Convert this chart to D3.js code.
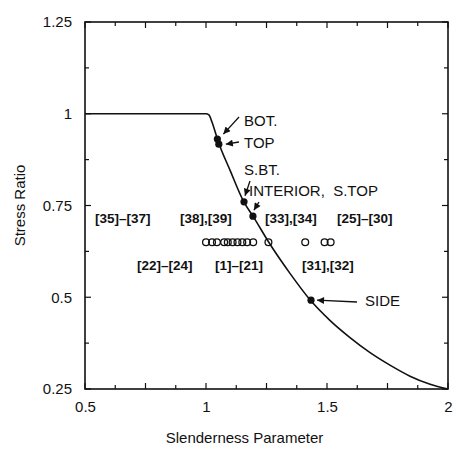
<!DOCTYPE html>
<html>
<head>
<meta charset="utf-8">
<script src="https://cdn.jsdelivr.net/npm/d3@7"></script>
<style>
  body { margin: 0; background: #fff; }
  text { font-family: "Liberation Sans", Arial, sans-serif; fill: #111; }
</style>
</head>
<body>
<div id="chart"></div>
<script>
// design curve (slenderness parameter, stress ratio)
var curveLambda = [0.5, 1.0, 1.012, 1.025, 1.05, 1.10, 1.157, 1.194, 1.264, 1.347, 1.43, 1.512, 1.595, 1.678, 1.76, 1.843, 1.926, 2.0];
var curveStress = [1.0, 1.0, 0.997, 0.977, 0.925, 0.845, 0.759, 0.721, 0.645, 0.565, 0.493, 0.437, 0.39, 0.349, 0.315, 0.285, 0.263, 0.25];

// open circles, tests [1]-[39]
var testLambda = [1.00, 1.025, 1.045, 1.075, 1.09, 1.11, 1.13, 1.15, 1.17, 1.195, 1.258, 1.41, 1.49, 1.515];
var testStress = [0.65, 0.65, 0.65, 0.65, 0.65, 0.65, 0.65, 0.65, 0.65, 0.65, 0.65, 0.65, 0.65, 0.65];

// filled points on the curve
var panelNames  = ["BOT.", "TOP", "S.BT.", "INTERIOR,  S.TOP", "SIDE"];
var panelLambda = [1.047, 1.053, 1.157, 1.194, 1.434];
var panelStress = [0.931, 0.917, 0.760, 0.721, 0.492];

// test number labels
var groupLabels = ["[35]\u2013[37]", "[38],[39]", "[33],[34]", "[25]\u2013[30]", "[22]\u2013[24]", "[1]\u2013[21]", "[31],[32]"];

var xTickValues = [0.5, 1, 1.5, 2];
var xTickLabels = ["0.5", "1", "1.5", "2"];
var yTickValues = [0.25, 0.5, 0.75, 1, 1.25];
var yTickLabels = ["0.25", "0.5", "0.75", "1", "1.25"];

var margin = { top: 22, right: 5, bottom: 66, left: 85 },
    width = 453 - margin.left - margin.right,
    height = 455 - margin.top - margin.bottom;

var svg = d3.select("#chart")
    .append("svg")
    .attr("width", 453)
    .attr("height", 455)
    .append("g")
    .attr("transform", "translate(" + margin.left + "," + margin.top + ")");

var x = d3.scaleLinear().domain([0.5, 2]).range([0, width]);
var y = d3.scaleLinear().domain([0.25, 1.25]).range([height, 0]);

// minor ticks every 0.125, pointing inwards
var xMinor = d3.range(0.5, 2.0001, 0.125);
var yMinor = d3.range(0.25, 1.2501, 0.125);
function tickLen(v) { return (Math.abs(v * 4 - Math.round(v * 4)) < 1e-6) ? 6 : 4; }

var ticks = svg.append("g").attr("stroke", "#111").attr("stroke-width", 1.2);
xMinor.forEach(function (v) {
    ticks.append("line").attr("x1", x(v)).attr("x2", x(v)).attr("y1", height).attr("y2", height - tickLen(v));
    ticks.append("line").attr("x1", x(v)).attr("x2", x(v)).attr("y1", 0).attr("y2", tickLen(v));
});
yMinor.forEach(function (v) {
    ticks.append("line").attr("y1", y(v)).attr("y2", y(v)).attr("x1", 0).attr("x2", tickLen(v));
    ticks.append("line").attr("y1", y(v)).attr("y2", y(v)).attr("x1", width).attr("x2", width - tickLen(v));
});

// tick labels through the axes
var xAxis = svg.append("g")
    .attr("transform", "translate(0," + height + ")")
    .call(d3.axisBottom(x).tickValues(xTickValues).tickSize(0).tickPadding(12)
        .tickFormat(function (d, i) { return xTickLabels[i]; }));
var yAxis = svg.append("g")
    .call(d3.axisLeft(y).tickValues(yTickValues).tickSize(0).tickPadding(13)
        .tickFormat(function (d, i) { return yTickLabels[i]; }));
[xAxis, yAxis].forEach(function (a) {
    a.select(".domain").remove();
    a.selectAll("text").style("font-size", "15px").attr("fill", "#111")
        .style("font-family", "'Liberation Sans', Arial, sans-serif");
});

// frame
svg.append("rect")
    .attr("width", width).attr("height", height)
    .attr("fill", "none").attr("stroke", "#111").attr("stroke-width", 1.6);

// axis titles
svg.append("text")
    .attr("x", width / 2 - 22)
    .attr("y", height + 54)
    .attr("text-anchor", "middle")
    .style("font-size", "15px")
    .text("Slenderness Parameter");
svg.append("text")
    .attr("transform", "translate(" + (-60) + "," + (height / 2) + ") rotate(-90)")
    .attr("text-anchor", "middle")
    .style("font-size", "15px")
    .text("Stress Ratio");

// design curve
var curve = curveLambda.map(function (d, i) { return [d, curveStress[i]]; });
svg.append("path")
    .datum(curve)
    .attr("fill", "none")
    .attr("stroke", "#111")
    .attr("stroke-width", 1.6)
    .attr("d", d3.line()
        .x(function (d) { return x(d[0]); })
        .y(function (d) { return y(d[1]); })
        .curve(d3.curveMonotoneX));

// test results
svg.selectAll(".test")
    .data(testLambda)
    .enter()
    .append("circle")
    .attr("cx", function (d) { return x(d); })
    .attr("cy", function (d, i) { return y(testStress[i]); })
    .attr("r", 3.4)
    .attr("fill", "none")
    .attr("stroke", "#111")
    .attr("stroke-width", 1.3);

// filled panel points
svg.selectAll(".panel")
    .data(panelLambda)
    .enter()
    .append("circle")
    .attr("cx", function (d) { return x(d); })
    .attr("cy", function (d, i) { return y(panelStress[i]); })
    .attr("r", 3.6)
    .attr("fill", "#111");

// arrow head
svg.append("defs").append("marker")
    .attr("id", "head")
    .attr("viewBox", "0 0 10 10")
    .attr("refX", 10).attr("refY", 5)
    .attr("markerWidth", 9).attr("markerHeight", 7)
    .attr("markerUnits", "userSpaceOnUse")
    .attr("orient", "auto")
    .append("path")
    .attr("d", "M0,0 L10,5 L0,10 z")
    .attr("fill", "#111");

// panel labels with arrows (label anchor, arrow start, arrow tip offset)
var labelPos = [[159, 104], [159, 126], [159, 153], [164, 174], [280, 284]];
var arrowFrom = [[154, 95], [154, 120], [165, 159], [174, 180], [272, 280]];
var tipGap = [[6, -5], [7, 0], [1, -6], [1, -6], [6, 0]];

panelNames.forEach(function (name, i) {
    var px = x(panelLambda[i]), py = y(panelStress[i]);
    svg.append("line")
        .attr("x1", arrowFrom[i][0]).attr("y1", arrowFrom[i][1])
        .attr("x2", px + tipGap[i][0]).attr("y2", py + tipGap[i][1])
        .attr("stroke", "#111").attr("stroke-width", 1.3)
        .attr("marker-end", "url(#head)");
    svg.append("text")
        .attr("x", labelPos[i][0])
        .attr("y", labelPos[i][1])
        .style("font-size", "15px")
        .style("white-space", "pre")
        .text(name);
});

// test number labels
var groupPos = [[10, 201], [95, 201], [180, 201], [252, 201], [52, 248], [130, 248], [217, 248]];
groupLabels.forEach(function (t, i) {
    svg.append("text")
        .attr("x", groupPos[i][0])
        .attr("y", groupPos[i][1])
        .style("font-size", "13.5px")
        .style("font-weight", "bold")
        .text(t);
});
</script>
</body>
</html>
